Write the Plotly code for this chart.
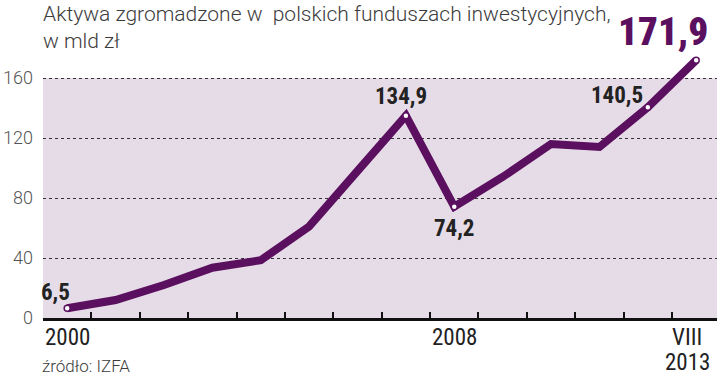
import plotly.graph_objects as go

# ---- data ----
x_labels = ["2000", "2001", "2002", "2003", "2004", "2005", "2006",
            "2007", "2008", "2009", "2010", "2011", "2012", "VIII 2013"]
values = [6.5, 12.0, 22.0, 33.5, 38.5, 61.0, 98.0,
          134.9, 74.2, 94.0, 116.0, 114.0, 140.5, 171.9]
labelled = {0: "6,5", 7: "134,9", 8: "74,2", 12: "140,5", 13: "171,9"}
axis_labels = {0: "2000", 8: "2008", 13: "VIII<br>2013"}
y_ticks = [0, 40, 80, 120, 160]

PURPLE = "#5b0f5f"
BG = "#e6dce7"
COND = "Roboto Condensed, DejaVu Sans Condensed, Liberation Sans Narrow, Roboto"
xs = list(range(len(values)))
Y_TOP = 180  # headroom above the shaded area so the last point is not clipped

fig = go.Figure()
fig.add_shape(type="rect", xref="paper", x0=0, x1=1, yref="y",
              y0=y_ticks[0], y1=y_ticks[-1], fillcolor=BG, line_width=0,
              layer="below")
fig.add_trace(go.Scatter(
    x=xs, y=values, mode="lines", cliponaxis=False,
    line=dict(color=PURPLE, width=8), hoverinfo="skip"))
mk = sorted(labelled)
fig.add_trace(go.Scatter(
    x=[xs[i] for i in mk], y=[values[i] for i in mk], mode="markers",
    cliponaxis=False,
    marker=dict(size=6, color="white", line=dict(color=PURPLE, width=1.5)),
    hoverinfo="skip"))

num_font = dict(family=COND, size=23, color="#222222", weight="bold")
shifts = {0: (-12, 16), 7: (-5, 19), 8: (0, -22), 12: (-31, 12)}
for i, (dx, dy) in shifts.items():
    fig.add_annotation(x=xs[i], y=values[i], text=labelled[i], showarrow=False,
                       xshift=dx, yshift=dy, font=num_font)
fig.add_annotation(x=xs[13], y=values[13], text=labelled[13], showarrow=False,
                   xshift=-33, yshift=28,
                   font=dict(family=COND, size=39, color=PURPLE, weight=900))

for i, t in axis_labels.items():
    for k, line in enumerate(t.split("<br>")):
        fig.add_annotation(x=xs[i], y=0, yref="paper", text=line, showarrow=False,
                           yanchor="top", yshift=-4 - 25 * k,
                           xshift=(-9 if i == 13 else 0), xanchor="center",
                           font=dict(family=COND, size=23, color="#222222",
                                     weight=400))

fig.add_annotation(x=0, xref="paper", xanchor="left", xshift=-2,
                   y=1, yref="paper", yanchor="top", yshift=48,
                   text="Aktywa zgromadzone w  polskich funduszach inwestycyjnych,<br>w mld zł",
                   showarrow=False, align="left",
                   font=dict(family="Roboto", size=21, color="#3c3c3c", weight=300))
fig.add_annotation(x=0, xref="paper", xanchor="left", xshift=-3,
                   y=0, yref="paper", yanchor="top", yshift=-36,
                   text="źródło: IZFA", showarrow=False,
                   font=dict(family="Roboto", size=17, color="#3c3c3c", weight=300))

fig.update_layout(
    width=720, height=378,
    margin=dict(l=41, r=3, t=48, b=60),
    paper_bgcolor="white", plot_bgcolor="white",
    showlegend=False,
    xaxis=dict(range=[-0.5, 13.43], showgrid=False, zeroline=False,
               showticklabels=False, tickvals=[v + 0.5 for v in xs[:-1]],
               ticks="inside", ticklen=6, tickwidth=1.5, tickcolor="#111111",
               showline=True, linecolor="#111111", linewidth=3),
    yaxis=dict(range=[0, Y_TOP], tickvals=y_ticks, showgrid=True,
               gridcolor="#333333", griddash="3px,3px", gridwidth=1.3,
               zeroline=False, showline=False, ticks="", ticklabelstandoff=9,
               tickfont=dict(family="Roboto", size=18, color="#555555", weight=300)),
)
fig.write_html("out.html", config={"displayModeBar": False},
               post_script="document.body.style.margin='0';")
